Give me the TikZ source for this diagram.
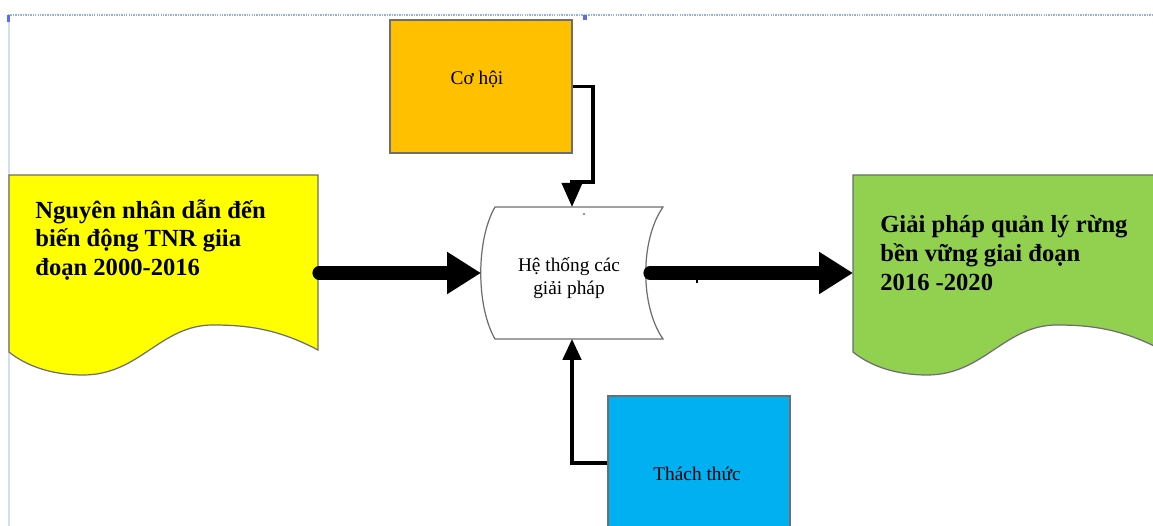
\documentclass[tikz,border=0pt]{standalone}
\usepackage{fontspec}
\setmainfont{Liberation Serif}
\usetikzlibrary{arrows.meta}
\definecolor{cohoi}{HTML}{FFC000}
\definecolor{thach}{HTML}{00B0F0}
\definecolor{docyellow}{HTML}{FFFF00}
\definecolor{docgreen}{HTML}{92D050}
\definecolor{bordergray}{HTML}{6E6E6E}
\definecolor{selblue}{HTML}{94B4DE}
\definecolor{selline}{HTML}{D3DEEE}
\begin{document}
\begin{tikzpicture}[x=0.02cm,y=-0.02cm,
  box/.style={draw=bordergray, line width=0.8pt, inner sep=0pt},
  shapeline/.style={draw=bordergray, line width=0.7pt},
  conn/.style={line width=2.2pt, line join=miter, -{Triangle[width=0.4cm,length=0.48cm]}},
  fatarrow/.style={line width=7.5pt, line cap=round, -{Triangle[width=0.8cm,length=0.68cm]}},
  smalltext/.style={font=\fontsize{11}{12.8}\selectfont, inner sep=0pt, align=center},
  bigtext/.style={font=\bfseries\fontsize{14}{16.4}\selectfont, align=left, anchor=north west, inner sep=0pt}]
\useasboundingbox (0,0) rectangle (1153,526);
\clip (0,0) rectangle (1153,526);

% selection frame artefacts
\draw[selline, line width=0.6pt] (9,15) -- (9,526);
\draw[selblue, line width=1.5pt, dash pattern=on 0.8pt off 0.6pt] (8,15) -- (1153,15);
\fill[selblue!60!blue] (7,15) rectangle (10,22);
\fill[selblue!60!blue] (583,15) rectangle (587,20);

% left document shape
\path[shapeline, fill=docyellow] (9,175) -- (318,175) -- (318,350)
  .. controls (280,330) and (250,325) .. (213,325)
  .. controls (160,325) and (140,375) .. (83,375)
  .. controls (50,375) and (25,365) .. (9,352) -- cycle;
\coordinate (lout) at (319,273);
\node[bigtext] (ltext) at (35,199) {Nguyên nhân dẫn đến\\biến động TNR giia\\đoạn 2000-2016};

% right document shape
\path[shapeline, fill=docgreen] (853,175) -- (1162,175) -- (1162,350)
  .. controls (1124,330) and (1094,325) .. (1057,325)
  .. controls (1004,325) and (984,375) .. (927,375)
  .. controls (894,375) and (869,365) .. (853,352) -- cycle;
\coordinate (rin) at (853,273);
\node[bigtext] (rtext) at (880,215) {Giải pháp quản lý rừng\\bền vững giai đoạn\\2016 -2020};

% centre stored-data shape
\path[shapeline, fill=white] (495,207) -- (663,207)
  .. controls (640,240) and (640,306) .. (663,339) -- (495,339)
  .. controls (476,306) and (476,240) .. (495,207) -- cycle;
\coordinate (hsleft) at (481,273);
\coordinate (hsright) at (650,273);
\coordinate (hstop) at (572,207);
\coordinate (hsbottom) at (572,339);
\node[smalltext] (hs) at (569,278) {Hệ thống các\\giải pháp};
\fill[bordergray] (584,214) circle (1.2);

% Co hoi box
\node[box, fill=cohoi, minimum width=3.64cm, minimum height=2.66cm] (co) at (481,86.5) {};
\node[smalltext] (cotext) at (477,79) {Cơ hội};

% Thach thuc box
\node[box, fill=thach, minimum width=3.64cm, minimum height=3.36cm] (th) at (699,480) {};
\node[smalltext] (thtext) at (697,474) {Thách thức};

% connectors
\coordinate (c1) at (593,86.5);
\coordinate (c2) at (593,182);
\draw[conn] (co.east) -- (c1) -- (c2) -| (hstop);

\coordinate (t1) at (572,463);
\draw[conn, line width=1.9pt, -{Triangle[width=0.37cm,length=0.42cm]}] (th.west |- t1) -- (t1) -- (hsbottom);

\draw[fatarrow] (lout) -- (hsleft);
\draw[fatarrow] (hsright) -- (rin);
\coordinate (tick1) at (697,266);
\coordinate (tick2) at (697,283);
\draw[line width=1.2pt] (tick1) -- (tick2);
\end{tikzpicture}
\end{document}
